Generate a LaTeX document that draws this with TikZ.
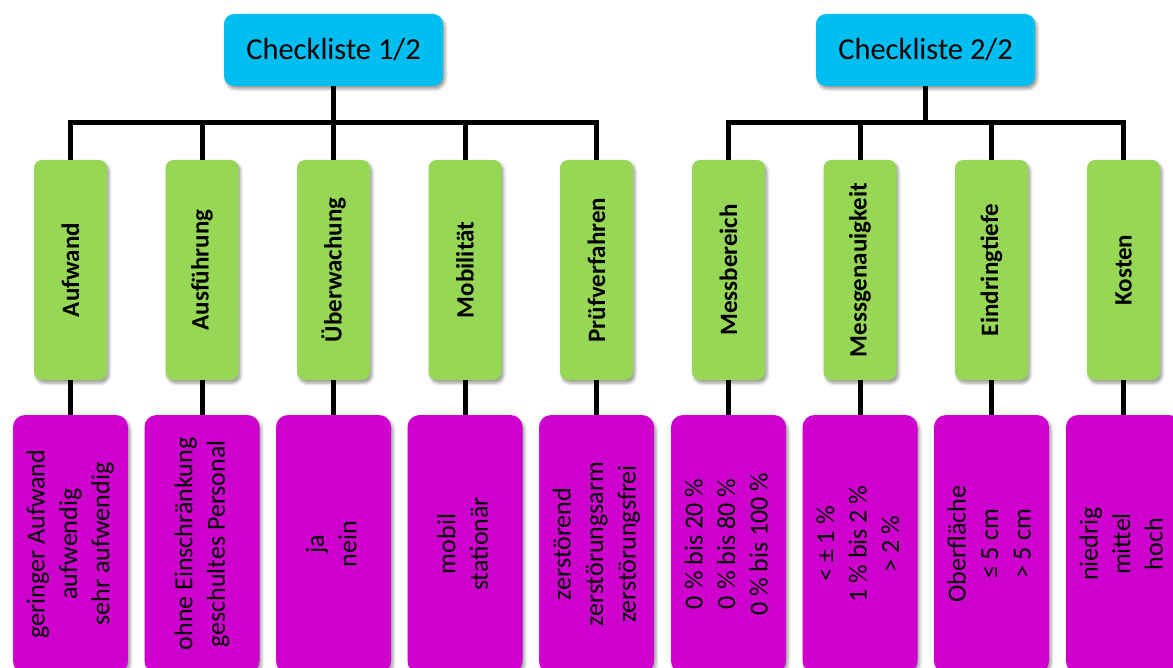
\documentclass[tikz,border=0pt]{standalone}
\usepackage{fontspec}
\usepackage{graphicx}
\setmainfont{Carlito}
\usetikzlibrary{shadows,shadows.blur}
\definecolor{cyanbox}{RGB}{0,190,240}
\definecolor{greenbox}{RGB}{150,215,85}
\definecolor{magbox}{RGB}{206,0,206}
\newcommand{\rlines}[1]{\rotatebox{90}{\begin{tabular}{@{}c@{}}#1\end{tabular}}}
\begin{document}
\begin{tikzpicture}[x=1pt,y=-1pt,
  shad/.style={blur shadow={shadow xshift=2pt,shadow yshift=-3pt,shadow blur radius=3pt,shadow opacity=40}},
  topbox/.style={rectangle,rounded corners=10pt,fill=cyanbox,minimum width=219pt,minimum height=72pt,inner sep=0pt,font=\fontsize{30.5}{36}\selectfont,shad},
  catbox/.style={rectangle,rounded corners=8pt,fill=greenbox,minimum width=73pt,minimum height=220pt,inner sep=0pt,font=\bfseries\fontsize{25}{30}\selectfont,shad},
  valbox/.style={rectangle,rounded corners=12pt,fill=magbox,minimum width=115pt,minimum height=258pt,inner sep=0pt,font=\fontsize{26}{32.5}\selectfont,shad},
  link/.style={line width=5pt,draw=black}]
\useasboundingbox (0,0) rectangle (1173,668);

% top boxes
\node[topbox] (t1) at (333.5,50) {Checkliste 1/2};
\node[topbox] (t2) at (925.5,50) {Checkliste 2/2};

% category boxes
\node[catbox] (g1) at (70.5,270)  {\rotatebox{90}{Aufwand}};
\node[catbox] (g2) at (202,270)   {\rotatebox{90}{Ausführung}};
\node[catbox] (g3) at (333.5,270) {\rotatebox{90}{Überwachung}};
\node[catbox] (g4) at (465,270)   {\rotatebox{90}{Mobilität}};
\node[catbox] (g5) at (596.5,270) {\rotatebox{90}{Prüfverfahren}};
\node[catbox] (g6) at (728.5,270) {\rotatebox{90}{Messbereich}};
\node[catbox] (g7) at (860,270)   {\rotatebox{90}{Messgenauigkeit}};
\node[catbox] (g8) at (991.5,270) {\rotatebox{90}{Eindringtiefe}};
\node[catbox] (g9) at (1123.5,270){\rotatebox{90}{Kosten}};

% value boxes
\node[valbox] (v1) at (70.5,544)  {\rlines{geringer Aufwand\\aufwendig\\sehr aufwendig}};
\node[valbox] (v2) at (202,544)   {\rlines{ohne Einschränkung\\geschultes Personal}};
\node[valbox] (v3) at (333.5,544) {\rlines{ja\\nein}};
\node[valbox] (v4) at (465,544)   {\rlines{mobil\\stationär}};
\node[valbox] (v5) at (596.5,544) {\rlines{zerstörend\\zerstörungsarm\\zerstörungsfrei}};
\node[valbox] (v6) at (728.5,544) {\rlines{0 \% bis 20 \%\\0 \% bis 80 \%\\0 \% bis 100 \%}};
\node[valbox] (v7) at (860,544)   {\rlines{< ± 1 \%\\1 \% bis 2 \%\\> 2 \%}};
\node[valbox] (v8) at (991.5,544) {\rlines{Oberfläche\\≤ 5 cm\\> 5 cm}};
\node[valbox] (v9) at (1123.5,544){\rlines{niedrig\\mittel\\hoch}};

% bar junctions
\coordinate (b1) at (333.5,122.5);
\coordinate (b2) at (925.5,122.5);

% connectors
\draw[link] (t1.south) -- (b1);
\draw[link] (t2.south) -- (b2);
\draw[link] (g1.north) |- (b1) -| (g5.north);
\draw[link] (g6.north) |- (b2) -| (g9.north);
\draw[link] (g2.north) -- (g2.north |- b1);
\draw[link] (g3.north) -- (g3.north |- b1);
\draw[link] (g4.north) -- (g4.north |- b1);
\draw[link] (g7.north) -- (g7.north |- b2);
\draw[link] (g8.north) -- (g8.north |- b2);
\foreach \i in {1,...,9}{\draw[link] (g\i.south) -- (v\i.north);}
\end{tikzpicture}
\end{document}
